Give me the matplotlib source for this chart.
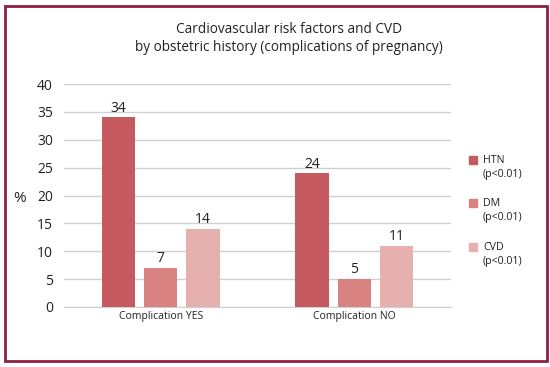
import numpy as np
import matplotlib.pyplot as plt
from matplotlib.patches import Rectangle

plt.rcParams['font.family'] = ['Open Sans', 'DejaVu Sans']

groups = ['Complication YES', 'Complication NO']
series = ['HTN', 'DM', 'CVD']
legend_labels = ['HTN\n(p<0.01)', 'DM\n(p<0.01)', 'CVD\n(p<0.01)']
values = {
    'HTN': [34, 24],
    'DM': [7, 5],
    'CVD': [14, 11],
}
colors = ['#C65B5F', '#D98282', '#E6B0AE']
yticks = [0, 5, 10, 15, 20, 25, 30, 35, 40]

W, H = 550, 367
fig = plt.figure(figsize=(W / 100, H / 100), dpi=100)

# frame around the whole figure
fig.patches.append(Rectangle((5 / W, 1 - 361 / H), 542 / W, 355 / H,
                             transform=fig.transFigure, fill=False,
                             edgecolor='#8C1F47', linewidth=2))

ax = fig.add_axes([64 / W, 1 - 307 / H, 387 / W, 223 / H])

x = np.arange(len(groups))
width = 0.172
step = 0.218
for i, s in enumerate(series):
    pos = x + (i - 1) * step
    bars = ax.bar(pos, values[s], width, color=colors[i], zorder=3)
    for b, v in zip(bars, values[s]):
        ax.text(b.get_x() + b.get_width() / 2, v + 0.3, str(v),
                ha='center', va='bottom', fontsize=10, color='#222222')

ax.set_xlim(-0.5, 1.5)
ax.set_ylim(0, 40)
ax.set_yticks(yticks)
ax.set_xticks(x)
ax.set_xticklabels(groups, fontsize=7.5)
ax.tick_params(axis='both', length=0, colors='#222222')
ax.tick_params(axis='y', labelsize=10, pad=8)
ax.tick_params(axis='x', pad=3)
ax.yaxis.grid(True, color='#D0D0D0', linewidth=1, zorder=0)
for sp in ['top', 'right', 'left']:
    ax.spines[sp].set_visible(False)
ax.spines['bottom'].set_color('#D0D0D0')

fig.text(13 / W, 1 - 198 / H, '%', fontsize=11, ha='left', va='center',
         color='#222222')

fig.text(289 / W, 1 - 38.5 / H,
         'Cardiovascular risk factors and CVD\nby obstetric history (complications of pregnancy)',
         ha='center', va='center', fontsize=9.8, color='#222222', linespacing=1.3)

# legend
leg_y = [160, 203, 247]
for i, lab in enumerate(legend_labels):
    fig.patches.append(Rectangle((469 / W, 1 - (leg_y[i] + 4) / H), 8 / W, 8 / H,
                                 transform=fig.transFigure, color=colors[i]))
    fig.text(483 / W, 1 - (leg_y[i] - 5) / H, lab, fontsize=7.7, va='top',
             ha='left', color='#222222', linespacing=1.4)

fig.savefig('out.png', dpi=100)
